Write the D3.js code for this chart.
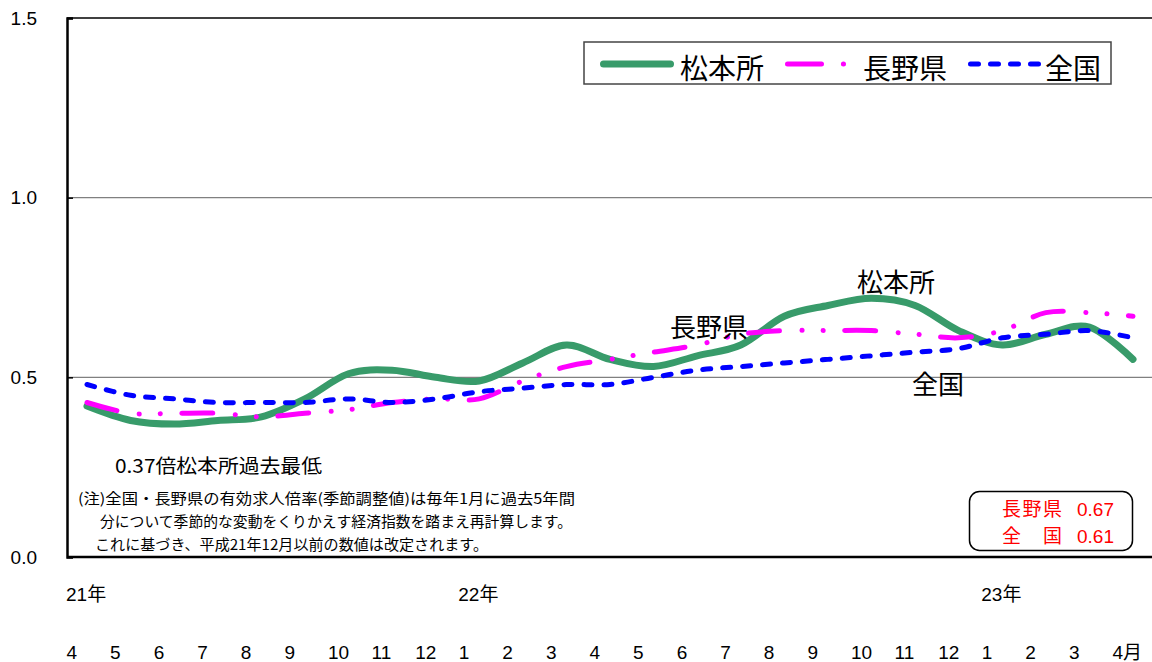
<!DOCTYPE html>
<html>
<head>
<meta charset="utf-8">
<script src="https://cdn.jsdelivr.net/npm/d3@7/dist/d3.min.js"></script>
<style>
  html, body { margin: 0; padding: 0; background: #fff; }
  svg { display: block; }
  text { font-family: "Liberation Sans", Arial, "Noto Sans CJK JP", sans-serif; }
  .jp { font-family: "Noto Sans CJK JP", "Liberation Sans", sans-serif; }
</style>
</head>
<body>
<svg id="chart" width="1152" height="662"></svg>
<script>
// ---- data ----
const monthLabels = ["4","5","6","7","8","9","10","11","12","1","2","3","4","5","6","7","8","9","10","11","12","1","2","3","4月"];
const yearLabels = [{i: 0, label: "21年"}, {i: 9, label: "22年"}, {i: 21, label: "23年"}];
const matsumoto = [0.42,0.38,0.37,0.38,0.39,0.44,0.51,0.52,0.50,0.49,0.54,0.59,0.55,0.53,0.56,0.59,0.67,0.70,0.72,0.70,0.63,0.59,0.62,0.64,0.55];
const nagano    = [0.43,0.40,0.40,0.40,0.39,0.40,0.41,0.43,0.44,0.44,0.49,0.53,0.55,0.57,0.59,0.62,0.63,0.63,0.63,0.62,0.61,0.63,0.68,0.68,0.67];
const zenkoku   = [0.48,0.45,0.44,0.43,0.43,0.43,0.44,0.43,0.44,0.46,0.47,0.48,0.48,0.50,0.52,0.53,0.54,0.55,0.56,0.57,0.58,0.61,0.62,0.63,0.61];
const yTicks = [0, 0.5, 1.0, 1.5];
const seriesNames = ["松本所", "長野県", "全国"];
const boxLines = [["長野県", "0.67"], ["全　国", "0.61"]];
const noteLines = [
  "(注)全国・長野県の有効求人倍率(季節調整値)は毎年1月に過去5年間",
  "分について季節的な変動をくりかえす経済指数を踏まえ再計算します。",
  "これに基づき、平成21年12月以前の数値は改定されます。"
];

// ---- layout ----
const svg = d3.select("#chart");
const plotLeft = 67, plotTop = 18, plotBottom = 557, plotRight = 1152;
const idx = monthLabels.map((d, i) => i);
const x = d3.scalePoint().domain(idx).range([87, 1133]);
const y = d3.scaleLinear().domain([0, 1.5]).range([plotBottom, plotTop]);

const colors = { g: "#389b6a", m: "#ff00ff", b: "#0000ff" };

// gridlines
svg.append("g").selectAll("line").data([0.5, 1.0]).join("line")
  .attr("x1", plotLeft).attr("x2", plotRight)
  .attr("y1", d => y(d)).attr("y2", d => y(d))
  .attr("stroke", "#808080").attr("stroke-width", 1.2);

// top border
svg.append("line").attr("x1", plotLeft).attr("x2", plotRight)
  .attr("y1", y(1.5)).attr("y2", y(1.5)).attr("stroke", "#000").attr("stroke-width", 1.5);
// bottom axis line
svg.append("line").attr("x1", plotLeft).attr("x2", plotRight)
  .attr("y1", y(0)).attr("y2", y(0)).attr("stroke", "#000").attr("stroke-width", 2.5);

// y axis
const yAxis = d3.axisLeft(y).tickValues(yTicks).tickFormat(d3.format(".1f")).tickSize(-6).tickPadding(30);
const yg = svg.append("g").attr("transform", `translate(${plotLeft},0)`).call(yAxis);
yg.select(".domain").attr("stroke", "#000").attr("stroke-width", 2.5);
yg.selectAll(".tick line").attr("stroke", "#000").attr("stroke-width", 1.5);
yg.selectAll(".tick text").attr("font-size", 19).attr("fill", "#000")
  .attr("font-family", "'Liberation Sans', Arial, sans-serif");

// x axis (month labels)
const xAxis = d3.axisBottom(x).tickFormat(i => monthLabels[i]).tickSize(0).tickPadding(0);
const xg = svg.append("g").attr("transform", `translate(0,${plotBottom})`).call(xAxis);
xg.select(".domain").remove();
xg.selectAll(".tick text").attr("font-size", 19).attr("fill", "#000")
  .attr("text-anchor", "start").attr("x", -21).attr("y", 102).attr("dy", 0)
  .attr("font-family", "'Liberation Sans', Arial, 'Noto Sans CJK JP', sans-serif");

// year labels
svg.append("g").selectAll("text").data(yearLabels).join("text")
  .attr("x", d => x(d.i) - 21).attr("y", 601)
  .attr("font-size", 19).attr("fill", "#000")
  .attr("font-family", "'Liberation Sans', Arial, 'Noto Sans CJK JP', sans-serif")
  .text(d => d.label);

// lines
const line = d3.line().x((d, i) => x(i)).y(d => y(d)).curve(d3.curveCardinal.tension(0));
const mDash = "31,22.5,0.1,21,0.1,21.5";
const bDash = "8,12";

svg.append("path").datum(matsumoto).attr("d", line)
  .attr("fill", "none").attr("stroke", colors.g).attr("stroke-width", 7)
  .attr("stroke-linecap", "round").attr("stroke-linejoin", "round");
svg.append("path").datum(nagano).attr("d", line)
  .attr("fill", "none").attr("stroke", colors.m).attr("stroke-width", 5)
  .attr("stroke-linecap", "round").attr("stroke-dasharray", mDash);
svg.append("path").datum(zenkoku).attr("d", line)
  .attr("fill", "none").attr("stroke", colors.b).attr("stroke-width", 5)
  .attr("stroke-linecap", "round").attr("stroke-dasharray", bDash);

// legend
const lg = svg.append("g");
lg.append("rect").attr("x", 584).attr("y", 42).attr("width", 527).attr("height", 42)
  .attr("fill", "#fff").attr("stroke", "#444").attr("stroke-width", 1.5);
const ly = 64;
lg.append("line").attr("x1", 603.5).attr("x2", 670.5).attr("y1", ly).attr("y2", ly)
  .attr("stroke", colors.g).attr("stroke-width", 7).attr("stroke-linecap", "round");
lg.append("line").attr("x1", 787.5).attr("x2", 843.5).attr("y1", ly).attr("y2", ly)
  .attr("stroke", colors.m).attr("stroke-width", 5).attr("stroke-linecap", "round")
  .attr("stroke-dasharray", "34,21.9,0.1,60");
lg.append("line").attr("x1", 970.5).attr("x2", 1038.5).attr("y1", ly).attr("y2", ly)
  .attr("stroke", colors.b).attr("stroke-width", 5).attr("stroke-linecap", "round")
  .attr("stroke-dasharray", bDash);
const legendTextX = [680, 863, 1045];
lg.selectAll("text").data(seriesNames).join("text")
  .attr("class", "jp").attr("x", (d, i) => legendTextX[i]).attr("y", 78.5)
  .attr("font-size", 28).attr("fill", "#000").text(d => d);

// in-chart labels
const ann = [
  {t: "長野県", x: 670, y: 337, s: 26},
  {t: "松本所", x: 857, y: 292, s: 26},
  {t: "全国", x: 912, y: 394, s: 26}
];
svg.append("g").selectAll("text").data(ann).join("text")
  .attr("class", "jp").attr("x", d => d.x).attr("y", d => d.y)
  .attr("font-size", d => d.s).attr("fill", "#000").text(d => d.t);

svg.append("text").attr("class", "jp").attr("x", 115).attr("y", 473)
  .attr("font-size", 19).attr("textLength", 207).attr("lengthAdjust", "spacingAndGlyphs")
  .attr("fill", "#000").text("0.37倍松本所過去最低");

// note
const noteX = [78, 100, 95], noteY = [504, 527, 550], noteW = [497, 472, 393];
svg.append("g").selectAll("text").data(noteLines).join("text")
  .attr("class", "jp").attr("x", (d, i) => noteX[i]).attr("y", (d, i) => noteY[i])
  .attr("font-size", 14.5).attr("textLength", (d, i) => noteW[i]).attr("lengthAdjust", "spacingAndGlyphs")
  .attr("fill", "#000").text(d => d);

// value box
const bx = svg.append("g");
bx.append("rect").attr("x", 969.5).attr("y", 491.5).attr("width", 163).attr("height", 59)
  .attr("rx", 10).attr("ry", 10).attr("fill", "#fff").attr("stroke", "#000").attr("stroke-width", 1.5);
const boxY = [516, 543];
boxLines.forEach((ln, i) => {
  bx.append("text").attr("class", "jp").attr("x", 1002).attr("y", boxY[i])
    .attr("font-size", 19).attr("fill", "#ff0000").attr("textLength", 60).attr("lengthAdjust", "spacing").text(ln[0]);
  bx.append("text").attr("x", 1077).attr("y", boxY[i])
    .attr("font-size", 19).attr("fill", "#ff0000")
    .attr("font-family", "'Liberation Sans', Arial, sans-serif").text(ln[1]);
});
</script>
</body>
</html>
